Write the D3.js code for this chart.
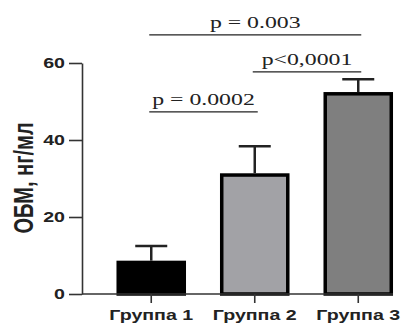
<!DOCTYPE html>
<html>
<head>
<meta charset="utf-8">
<script src="https://cdn.jsdelivr.net/npm/d3@7"></script>
<style>
  body { margin: 0; background: #fff; }
  svg { display: block; }
</style>
</head>
<body>
<svg width="420" height="327"></svg>
<script>
var groups = ["Группа 1", "Группа 2", "Группа 3"];
var means = [8.2, 30.9, 52];
var errTop = [12.5, 38.4, 55.8];
var fills = ["#000000", "#a2a2a6", "#7f7f7f"];
var yTicks = [0, 20, 40, 60];
// comparisons: from group, to group, bar height (in axis units), label
var compFrom = [0, 1, 0];
var compTo = [2, 2, 1];
var compLevel = [67.3, 57.7, 47.3];
var compText = ["p = 0.003", "p<0,0001", "p = 0.0002"];

var svg = d3.select("svg");
var sx = 1.4; // the picture is stretched sideways

var xScale = d3.scaleBand().domain(groups).range([82, 427.5])
    .paddingInner(0.362).paddingOuter(0.35);
var yScale = d3.scaleLinear().domain([0, 60]).range([294, 63]);

function stretchText(x, y, str) {
    return svg.append("g").attr("transform", "translate(" + x + "," + y + ")")
        .append("text").attr("transform", "scale(" + sx + ",1)").text(str);
}

// bars
svg.selectAll(".bar").data(groups).enter().append("rect")
    .attr("class", "bar")
    .attr("x", function(d) { return xScale(d); })
    .attr("y", function(d, i) { return yScale(means[i]); })
    .attr("width", xScale.bandwidth())
    .attr("height", function(d, i) { return yScale(0) - yScale(means[i]); })
    .attr("fill", function(d, i) { return fills[i]; })
    .attr("stroke", "#000").attr("stroke-width", 3.5);

// error bars
var cap = 16;
groups.forEach(function(g, i) {
    var cx = xScale(g) + xScale.bandwidth() / 2;
    svg.append("line").attr("x1", cx).attr("x2", cx)
        .attr("y1", yScale(means[i]) - 1.75).attr("y2", yScale(errTop[i]))
        .attr("stroke", "#222").attr("stroke-width", 2.5);
    svg.append("line").attr("x1", cx - cap).attr("x2", cx + cap)
        .attr("y1", yScale(errTop[i])).attr("y2", yScale(errTop[i]))
        .attr("stroke", "#222").attr("stroke-width", 2.5);
});

// y axis
var yAxis = svg.append("g").attr("transform", "translate(82,0)")
    .call(d3.axisLeft(yScale).tickValues(yTicks).tickSize(13).tickSizeOuter(0).tickFormat(""));
yAxis.selectAll("path, line").attr("stroke", "#333").attr("stroke-width", 1.6);
yTicks.forEach(function(t) {
    stretchText(65, yScale(t), t).attr("text-anchor", "end").attr("dy", "0.36em")
        .attr("font-family", "Arial, 'Liberation Sans', sans-serif")
        .attr("font-weight", "bold").attr("font-size", 14).attr("fill", "#222");
});

// x axis
var xEnd = xScale(groups[2]) + xScale.bandwidth() + 1.75;
svg.append("line").attr("x1", 82).attr("x2", xEnd).attr("y1", 294).attr("y2", 294)
    .attr("stroke", "#333").attr("stroke-width", 1.6);
groups.forEach(function(g) {
    var cx = xScale(g) + xScale.bandwidth() / 2;
    svg.append("line").attr("x1", cx).attr("x2", cx).attr("y1", 294).attr("y2", 303)
        .attr("stroke", "#333").attr("stroke-width", 1.6);
    stretchText(cx, 320, g).attr("text-anchor", "middle")
        .attr("font-family", "Arial, 'Liberation Sans', sans-serif")
        .attr("font-weight", "bold").attr("font-size", 14).attr("fill", "#222");
});

// y label
svg.append("text")
    .attr("transform", "translate(23,178) scale(" + sx + ",1) rotate(-90)")
    .attr("text-anchor", "middle").attr("dy", "0.36em")
    .attr("font-family", "Arial, 'Liberation Sans', sans-serif")
    .attr("font-weight", "bold").attr("font-size", 20).attr("fill", "#222")
    .text("ОБМ, нг/мл");

// significance brackets
compText.forEach(function(t, i) {
    var x1 = xScale(groups[compFrom[i]]) + xScale.bandwidth() / 2 - 2;
    var x2 = xScale(groups[compTo[i]]) + xScale.bandwidth() / 2 + 3;
    var ly = yScale(compLevel[i]);
    svg.append("line").attr("x1", x1).attr("x2", x2).attr("y1", ly).attr("y2", ly)
        .attr("stroke", "#222").attr("stroke-width", 1.4);
    stretchText((x1 + x2) / 2, ly - 7, t).attr("text-anchor", "middle")
        .attr("font-family", "'Times New Roman', 'Liberation Serif', serif")
        .attr("font-size", 17).attr("fill", "#222");
});
</script>
</body>
</html>
